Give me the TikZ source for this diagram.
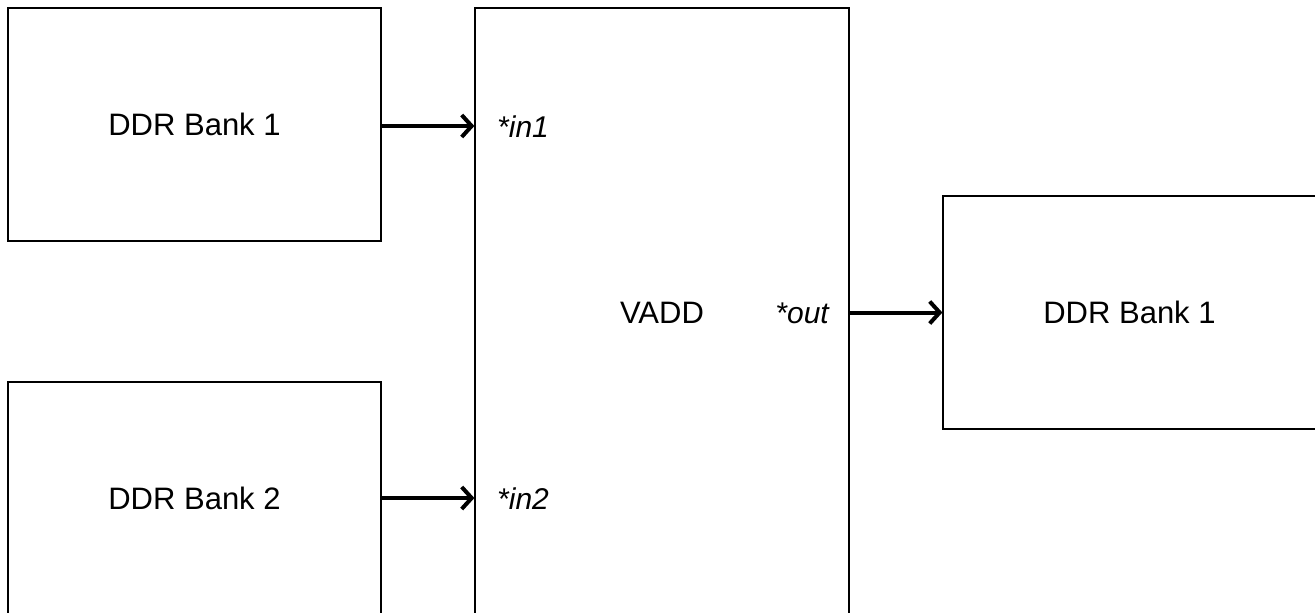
\documentclass[tikz,border=0pt]{standalone}
\usepackage{fontspec}
\setmainfont{Liberation Sans}
\usetikzlibrary{arrows.meta}
\begin{document}
\begin{tikzpicture}[x=1pt,y=-1pt,
  box/.style={draw=black,line width=1.2pt,fill=white,minimum width=373pt,minimum height=233pt,inner sep=0pt,font=\fontsize{31}{37}\selectfont},
  lbl/.style={font=\fontsize{30}{36}\selectfont\itshape,inner sep=0pt},
  conn/.style={line width=4pt,-{Straight Barb[length=10pt,width=22pt,line width=4pt]}}]
\useasboundingbox (0,0) rectangle (1315,613);
\clip (0,0) rectangle (1315,613);
\node[box] (b1) at (194.5,124.5) {DDR Bank 1};
\node[box] (b2) at (194.5,498.5) {DDR Bank 2};
\node[box,minimum width=374pt,minimum height=610pt] (vadd) at (662,313) {VADD};
\node[box] (b3) at (1129.5,312.5) {DDR Bank 1};
\node[lbl,anchor=west] (in1) at (497,127) {*in1};
\node[lbl,anchor=west] (in2) at (497,499) {*in2};
\node[lbl,anchor=east] (out) at (829,313) {*out};
\draw[conn] (b1.east |- 0,126) -- (vadd.west |- 0,126);
\draw[conn] (b2.east |- 0,498) -- (vadd.west |- 0,498);
\draw[conn] (vadd.east |- b3.west) -- (b3.west);
\end{tikzpicture}
\end{document}
